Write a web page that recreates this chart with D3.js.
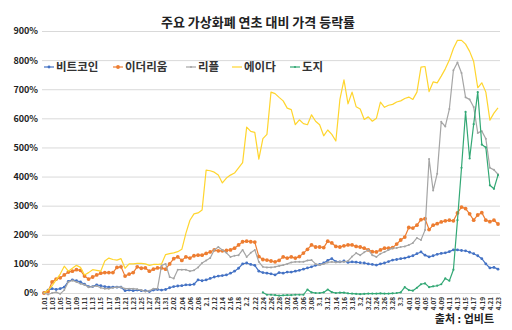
<!DOCTYPE html>
<html>
<head>
<meta charset="utf-8">
<script src="https://cdn.jsdelivr.net/npm/d3@7"></script>
<style>
  html, body { margin: 0; padding: 0; background: #fff; }
  svg { display: block; }
  text { font-family: "Noto Sans CJK KR", "Noto Sans", sans-serif; }
</style>
</head>
<body>
<svg id="chart" width="512" height="330"></svg>
<script>
const title = "주요 가상화폐 연초 대비 가격 등락률";
const source = "출처 : 업비트";

const dates = [
  "1.01","1.02","1.03","1.04","1.05","1.06","1.07","1.08","1.09","1.1",
  "1.11","1.12","1.13","1.14","1.15","1.16","1.17","1.18","1.19","1.2",
  "1.21","1.22","1.23","1.24","1.25","1.26","1.27","1.28","1.29","1.3","1.31",
  "2.01","2.02","2.03","2.04","2.05","2.06","2.07","2.08","2.09","2.1",
  "2.11","2.12","2.13","2.14","2.15","2.16","2.17","2.18","2.19","2.2",
  "2.21","2.22","2.23","2.24","2.25","2.26","2.27","2.28",
  "3.01","3.02","3.03","3.04","3.05","3.06","3.07","3.08","3.09","3.1",
  "3.11","3.12","3.13","3.14","3.15","3.16","3.17","3.18","3.19","3.2",
  "3.21","3.22","3.23","3.24","3.25","3.26","3.27","3.28","3.29","3.3","3.31",
  "4.01","4.02","4.03","4.04","4.05","4.06","4.07","4.08","4.09","4.1",
  "4.11","4.12","4.13","4.14","4.15","4.16","4.17","4.18","4.19","4.2",
  "4.21","4.22","4.23"
];

const seriesNames = ["비트코인", "이더리움", "리플", "에이다", "도지"];

const bitcoin = [
  0,10,15,12,15,20,40,45,42,38,
  30,22,22,28,25,22,20,20,20,20,
  8,10,8,10,8,8,5,10,12,10,
  12,18,22,24,25,28,28,30,45,42,
  45,50,55,58,60,62,68,75,85,100,
  103,98,95,75,70,68,66,62,70,68,
  72,72,75,78,82,86,90,95,98,103,
  112,118,108,107,110,105,107,106,104,103,
  100,98,96,100,103,108,113,115,118,120,
  124,128,135,141,130,124,128,133,136,138,
  142,148,148,146,145,140,135,128,118,100,
  86,88,82
];

const ethereum = [
  0,5,38,48,52,62,72,75,80,78,
  58,48,55,62,68,70,70,70,88,90,
  58,65,70,90,85,86,75,82,86,86,
  82,100,118,124,112,124,120,128,130,130,
  136,141,148,145,145,146,148,154,165,176,
  178,176,175,125,115,113,110,107,112,124,
  120,124,120,125,137,150,165,158,158,156,
  178,172,160,158,162,165,165,160,158,154,
  148,142,141,148,154,154,156,168,182,192,
  225,223,233,252,255,218,233,238,244,248,
  250,248,275,295,290,272,250,268,276,250,
  245,250,237
];

const ripple = [
  0,-5,0,3,-3,10,38,43,38,32,
  28,20,22,24,18,15,15,18,20,20,
  15,15,15,13,10,5,8,15,15,95,
  100,55,50,80,80,80,75,78,88,103,
  112,120,148,158,148,138,124,128,130,148,
  124,138,148,107,90,88,88,90,93,96,
  100,105,107,107,107,112,113,100,96,100,
  105,107,105,107,107,110,125,137,130,140,
  148,130,124,135,141,148,154,155,158,160,
  165,172,189,182,216,460,352,410,588,572,
  632,765,792,756,672,665,639,550,556,530,
  430,423,408
];

const cardano = [
  0,10,25,45,65,92,75,85,95,88,
  62,70,80,78,75,110,120,115,113,118,
  85,100,100,102,102,100,95,98,98,100,
  132,135,138,142,150,205,250,272,275,285,
  422,420,415,405,378,395,405,412,430,448,
  570,555,552,460,530,545,690,685,672,660,
  635,630,578,595,582,578,612,590,578,540,
  560,545,522,665,732,650,690,640,632,596,
  605,590,600,656,638,645,648,656,660,668,
  673,665,690,776,778,692,725,722,745,770,
  800,840,868,868,855,830,795,705,722,690,
  594,618,636
];

const doge = [
  null,null,null,null,null,null,null,null,null,null,
  null,null,null,null,null,null,null,null,null,null,
  null,null,null,null,null,null,null,null,null,null,
  null,null,null,null,null,null,null,null,null,null,
  null,null,null,null,null,null,null,null,null,null,
  null,null,null,null,2,-6,-6,-7,-9,-8,
  -7,-7,-6,-6,-6,12,2,0,0,2,
  12,3,0,1,1,-1,-2,-3,-4,-3,
  -2,-2,-2,-1,-2,-2,-1,0,2,20,
  10,8,18,30,33,20,23,25,30,50,
  42,80,250,430,622,462,580,690,510,500,
  370,358,405
];

const yTicks = [0,100,200,300,400,500,600,700,800,900];
const xTickLabels = dates.filter((d, i) => i % 2 === 0);

const colors = ["#4472C4", "#ED7D31", "#A5A5A5", "#FFD52E", "#33A875"];
const markerR = [1.4, 1.9, 1.0, 0, 1.1];
const seriesValues = [bitcoin, ethereum, ripple, cardano, doge];

const svg = d3.select("#chart");

const x = d3.scalePoint().domain(dates).range([44, 498]);
const y = d3.scaleLinear().domain([0, 900]).range([293, 31]);

// gridlines
svg.append("g")
  .attr("transform", "translate(42,0)")
  .call(d3.axisLeft(y).tickValues(yTicks).tickSize(-458).tickFormat(""))
  .call(g => g.select(".domain").remove())
  .call(g => g.selectAll("line").attr("stroke", "#d9d9d9").attr("stroke-width", 1));

// y labels
svg.append("g")
  .attr("transform", "translate(38,0)")
  .call(d3.axisLeft(y).tickValues(yTicks).tickSize(0).tickPadding(0).tickFormat(d => d + "%"))
  .call(g => g.select(".domain").remove())
  .call(g => g.selectAll("text")
    .attr("font-size", 9).attr("font-weight", "bold").attr("fill", "#222")
    .style("font-family", "'Noto Sans CJK KR', sans-serif"));

// x axis
svg.append("g")
  .attr("transform", "translate(0,293)")
  .call(d3.axisBottom(x).tickValues(xTickLabels).tickSize(0))
  .call(g => g.select(".domain").attr("stroke", "#d9d9d9"))
  .call(g => g.selectAll("text")
    .attr("transform", "rotate(-90)")
    .attr("x", -4).attr("y", 0).attr("dy", "0.35em")
    .attr("text-anchor", "end")
    .attr("font-size", 6.3).attr("font-weight", "bold").attr("fill", "#333")
    .style("font-family", "'Noto Sans CJK KR', sans-serif"));

// lines
const line = d3.line()
  .defined(d => d.v !== null)
  .x(d => x(d.date))
  .y(d => y(d.v));

seriesValues.forEach((vals, si) => {
  const data = vals.map((v, i) => ({ date: dates[i], v }));
  svg.append("path")
    .datum(data)
    .attr("fill", "none")
    .attr("stroke", colors[si])
    .attr("stroke-width", 1.2)
    .attr("stroke-linejoin", "round")
    .attr("d", line);
  if (markerR[si] > 0) {
    svg.append("g").selectAll("circle")
      .data(data.filter(d => d.v !== null))
      .join("circle")
      .attr("cx", d => x(d.date))
      .attr("cy", d => y(d.v))
      .attr("r", markerR[si])
      .attr("fill", colors[si]);
  }
});

// legend
const legendX = [44, 113, 186, 232, 290];
const legend = svg.append("g").attr("transform", "translate(0,67)");
seriesNames.forEach((name, i) => {
  const g = legend.append("g").attr("transform", `translate(${legendX[i]},0)`);
  g.append("line").attr("x1", 0).attr("x2", 10).attr("y1", 0).attr("y2", 0)
    .attr("stroke", colors[i]).attr("stroke-width", 1.2);
  if (markerR[i] > 0) {
    g.append("circle").attr("cx", 5).attr("cy", 0).attr("r", markerR[i]).attr("fill", colors[i]);
  }
  g.append("text").attr("x", 12).attr("y", 0).attr("dy", "0.35em")
    .attr("font-size", 11.5).attr("font-weight", "bold").attr("fill", "#333")
    .text(name);
});

// title
svg.append("text")
  .attr("x", 258).attr("y", 27)
  .attr("text-anchor", "middle")
  .attr("font-size", 13).attr("font-weight", "bold").attr("fill", "#222")
  .text(title);

// source
svg.append("text")
  .attr("x", 494).attr("y", 323)
  .attr("text-anchor", "end")
  .attr("font-size", 11).attr("font-weight", "bold").attr("fill", "#222")
  .text(source);
</script>
</body>
</html>
